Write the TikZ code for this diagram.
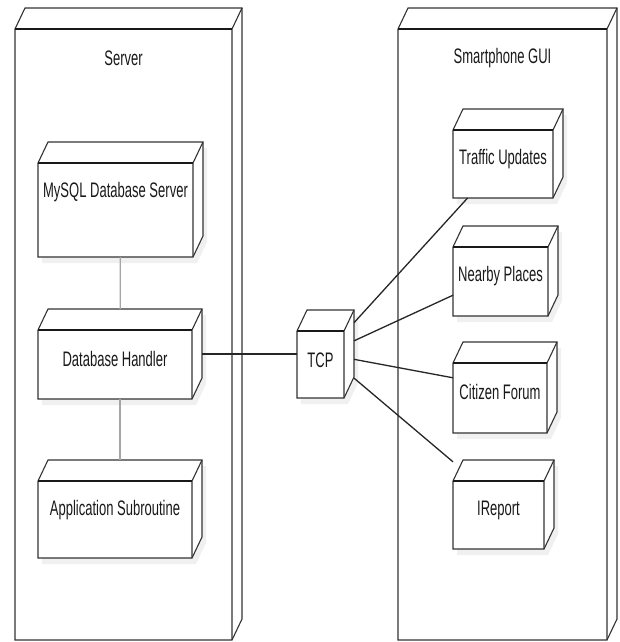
\documentclass[tikz,border=0pt]{standalone}
\usepackage{fontspec}
\newfontfamily\lblfont{Liberation Sans}[FakeStretch=0.62]
\usetikzlibrary{calc}
\tikzset{
  box/.style={draw=none, inner sep=0pt, outer sep=0pt, rectangle},
  edgeline/.style={line width=1.1pt, draw=black!80},
  topedge/.style={line width=2pt, draw=black!90},
  lbl/.style={font=\lblfont\fontsize{21}{24}\selectfont, text=black!90, inner sep=0pt, anchor=center},
  link/.style={line width=1.3pt, draw=black!85},
  glink/.style={line width=1.3pt, draw=black!35},
}
% #1 name, #2 x1, #3 y1, #4 x2, #5 y2 (front face), #6 label, #7 shadow opacity
\newcommand{\mkcube}[7]{%
  \fill[black, opacity=#7, shift={(4,6)}] (#2,#5) -- (#2,#3) -- ({#2+10},{#3-21}) -- ({#4+10},{#3-21}) -- ({#4+10},{#5-21}) -- (#4,#5) -- cycle;
  \node[box, minimum width={#4-#2+10}, minimum height={#5-#3+21}] (#1) at ({(#2+#4+10)/2},{(#3+#5-21)/2}) {};
  \filldraw[edgeline, fill=white] (#2,#5) -- (#2,#3) -- ({#2+10},{#3-21}) -- ({#4+10},{#3-21}) -- ({#4+10},{#5-21}) -- (#4,#5) -- cycle;
  \draw[edgeline] (#4,#5) -- (#4,#3) -- ({#4+10},{#3-21});
  \draw[topedge] (#2,#3) -- (#4,#3);
  \node[lbl] (#1-label) at ({(#2+#4)/2},{#3+29}) {#6};
}
\begin{document}
\begin{tikzpicture}[x=1pt,y=-1pt]
\useasboundingbox (0,0) rectangle (620,642);
\fill[white] (0,0) rectangle (620,642);
% outer nodes
\mkcube{server}{15}{29}{232}{640}{Server}{0}
\mkcube{phone}{398}{29}{607}{640}{Smartphone GUI}{0}
% inner nodes
\mkcube{mysql}{38}{163}{193}{257}{MySQL Database Server}{0.06}
\mkcube{handler}{38}{330}{192}{399}{Database Handler}{0.06}
\mkcube{app}{38}{481}{192}{558}{Application Subroutine}{0.06}
\mkcube{tcp}{297}{331}{344}{398}{TCP}{0.06}
\mkcube{traffic}{453}{130}{553}{198}{Traffic Updates}{0.06}
\mkcube{nearby}{453}{247}{548}{316}{Nearby Places}{0.06}
\mkcube{forum}{453}{363}{547}{433}{Citizen Forum}{0.06}
\mkcube{ireport}{453}{481}{544}{549}{IReport}{0.06}
% connectors
\draw[glink] (mysql) -- (handler);
\draw[glink] (handler) -- (app);
\draw[link] (handler) -- (tcp);
\draw[link] (tcp) -- (traffic);
\draw[link] (tcp) -- (nearby);
\draw[link] (tcp) -- (forum);
\draw[link] (tcp) -- (ireport);
\end{tikzpicture}
\end{document}
